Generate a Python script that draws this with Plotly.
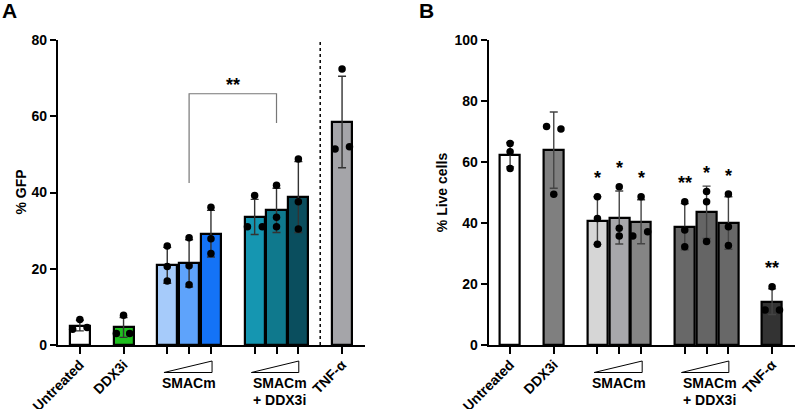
import plotly.graph_objects as go

# ---------------- data ----------------
positions = [0, 2, 4, 5, 6, 8, 9, 10, 12]
tick_text = ["Untreated", "DDX3i", "", "", "", "", "", "", "TNF-α"]

# Panel A: % GFP
gfp_mean = [5.1, 4.6, 20.9, 21.4, 29.2, 33.6, 35.3, 38.8, 58.5]
gfp_sd = [1.4, 2.6, 4.7, 6.2, 6.1, 4.6, 5.8, 9.3, 12.0]
gfp_rep1 = [6.7, 7.8, 26.0, 28.1, 36.1, 39.2, 41.9, 48.8, 72.4]
gfp_rep2 = [4.1, 3.0, 20.6, 20.8, 27.9, 31.0, 33.5, 37.6, 51.4]
gfp_rep3 = [4.6, 3.0, 16.8, 15.8, 24.0, 31.0, 31.0, 30.4, 52.0]
gfp_jitter = [[0, -0.33, 0.33], [0, -0.33, 0.28], [0, 0, 0], [0, 0, 0], [0, 0, 0],
              [0, -0.33, 0.35], [0, 0, 0], [0, 0, 0], [0, -0.32, 0.34]]
gfp_colors = ["#ffffff", "#1fbf1f", "#a6cbfa", "#5ea3fb", "#1473f7",
              "#1596b1", "#0f798d", "#0a4e5e", "#a5a5a9"]

# Panel B: % Live cells
live_mean = [62.4, 63.9, 40.8, 41.8, 40.4, 38.8, 43.5, 40.0, 14.2]
live_sd = [4.0, 12.5, 7.8, 8.7, 7.2, 7.6, 8.6, 8.6, 4.2]
live_rep1 = [66.1, 71.6, 48.6, 51.9, 48.6, 47.0, 50.3, 49.5, 19.1]
live_rep2 = [63.4, 70.8, 41.5, 38.3, 35.7, 37.7, 47.0, 38.8, 11.5]
live_rep3 = [57.9, 49.4, 33.0, 35.7, 37.1, 32.2, 33.9, 32.6, 11.5]
live_jitter = [[0, 0, 0], [-0.33, 0.33, 0], [0, 0, 0], [0, 0, 0], [0, -0.38, 0.3],
               [0, 0, 0], [0, 0, 0], [0, 0, 0], [0, -0.32, 0.34]]
live_colors = ["#ffffff", "#7f7f7f", "#d6d6d6", "#a7a7ab", "#858585",
               "#686868", "#656565", "#686868", "#333333"]
live_sig = ["", "", "*", "*", "*", "**", "*", "*", "**"]

FONT = "Arial, Liberation Sans, sans-serif"

fig = go.Figure()


def add_panel(xa, ya, means, sds, reps, jitter, colors, err_color):
    fig.add_trace(go.Bar(
        x=positions, y=means, width=0.92, xaxis=xa, yaxis=ya,
        marker=dict(color=colors, line=dict(color="black", width=2.2)),
        error_y=dict(type="data", array=sds, visible=True, color=err_color,
                     thickness=1.4, width=4),
        showlegend=False, hoverinfo="skip"))
    xs, ys = [], []
    for i, p in enumerate(positions):
        for k in range(3):
            xs.append(p + jitter[i][k])
            ys.append(reps[k][i])
    fig.add_trace(go.Scatter(
        x=xs, y=ys, mode="markers", xaxis=xa, yaxis=ya,
        marker=dict(color="black", size=7.5), showlegend=False, hoverinfo="skip"))


add_panel("x", "y", gfp_mean, gfp_sd, [gfp_rep1, gfp_rep2, gfp_rep3],
          gfp_jitter, gfp_colors, "#333333")
add_panel("x2", "y2", live_mean, live_sd, [live_rep1, live_rep2, live_rep3],
          live_jitter, live_colors, "#444444")

ydom = [1 - 345 / 409, 1 - 40 / 409]
axis_common = dict(showgrid=False, zeroline=False, showline=True, linecolor="black",
                   linewidth=2.2, ticks="outside", tickwidth=2, tickcolor="black",
                   automargin=False,
                   tickfont=dict(family=FONT, size=14, color="black", weight="bold"))

fig.update_layout(
    width=795, height=409,
    margin=dict(l=0, r=0, t=0, b=0, autoexpand=False),
    paper_bgcolor="white", plot_bgcolor="white",
    font=dict(family=FONT, color="black"),
    bargap=0,
    xaxis=dict(domain=[58 / 795, 365 / 795], range=[-1.0, 13.05], tickvals=positions,
               ticktext=tick_text, tickangle=-45, ticklen=7, ticklabelstandoff=-3,
               **axis_common),
    yaxis=dict(domain=ydom, range=[0, 80], tickvals=[0, 20, 40, 60, 80], ticklen=6,
               **axis_common),
    xaxis2=dict(domain=[488.7 / 795, 1.0], range=[-0.98, 13.05], tickvals=positions,
                ticktext=tick_text, tickangle=-45, ticklen=7, ticklabelstandoff=-3,
                anchor="y2", **axis_common),
    yaxis2=dict(domain=ydom, range=[0, 100], tickvals=[0, 20, 40, 60, 80, 100], ticklen=6,
                anchor="x2", **axis_common),
)

shapes = []
annotations = []

title_font = dict(family=FONT, size=14, color="black", weight="bold")
ymid = (ydom[0] + ydom[1]) / 2
annotations.append(dict(x=20 / 795, y=ymid, xref="paper", yref="paper", text="% GFP",
                        textangle=-90, showarrow=False, xanchor="center", yanchor="middle",
                        font=title_font))
annotations.append(dict(x=441.7 / 795, y=ymid, xref="paper", yref="paper", text="% Live cells",
                        textangle=-90, showarrow=False, xanchor="center", yanchor="middle",
                        font=title_font))

# dotted separator in panel A
shapes.append(dict(type="line", xref="x", yref="y", x0=11, x1=11, y0=0, y1=80,
                   line=dict(color="black", width=1.5, dash="dot")))
# significance bracket in panel A
shapes.append(dict(type="path", xref="x", yref="y",
                   path="M 5,42.5 L 5,65.9 L 9,65.9 L 9,58.2",
                   line=dict(color="#777777", width=1.2)))
annotations.append(dict(x=7, y=68.3, xref="x", yref="y", text="**", showarrow=False,
                        font=dict(family=FONT, size=18, color="black", weight="bold"),
                        xanchor="center", yanchor="middle"))

# significance stars in panel B
for i, s in enumerate(live_sig):
    if s:
        top = max(live_rep1[i], live_rep2[i], live_rep3[i])
        annotations.append(dict(x=positions[i], y=top + 6.0, xref="x2", yref="y2", text=s,
                                showarrow=False, xanchor="center", yanchor="middle",
                                font=dict(family=FONT, size=18, color="black", weight="bold")))

# wedges and group labels
y_lo = 1 - 372.5 / 409
y_hi = 1 - 361 / 409
lab_font = dict(family=FONT, size=14, color="black", weight="bold")
for xr in ["x", "x2"]:
    for g0, g1 in [(3.85, 6.05), (7.85, 10.02)]:
        shapes.append(dict(type="path", xref=xr, yref="paper",
                           path=f"M {g0},{y_lo} L {g1},{y_lo} L {g1},{y_hi} Z",
                           line=dict(color="black", width=1), fillcolor="white"))
    annotations.append(dict(x=5, y=1 - 383 / 409, xref=xr, yref="paper", text="SMACm",
                            showarrow=False, xanchor="center", yanchor="middle", font=lab_font))
    annotations.append(dict(x=7.85, y=1 - 383 / 409, xref=xr, yref="paper", text="SMACm",
                            showarrow=False, xanchor="left", yanchor="middle", font=lab_font))
    annotations.append(dict(x=7.85, y=1 - 399.5 / 409, xref=xr, yref="paper", text="+ DDX3i",
                            showarrow=False, xanchor="left", yanchor="middle", font=lab_font))

# panel letters
annotations.append(dict(x=0, y=1, xref="paper", yref="paper", text="A", yshift=3,
                        showarrow=False, xanchor="left", yanchor="top",
                        font=dict(family=FONT, size=21, color="black", weight="bold")))
annotations.append(dict(x=417 / 795, y=1, xref="paper", yref="paper", text="B", yshift=3,
                        showarrow=False, xanchor="left", yanchor="top",
                        font=dict(family=FONT, size=21, color="black", weight="bold")))

fig.update_layout(shapes=shapes, annotations=annotations)
fig.write_html("out.html", config={"displayModeBar": False},
               post_script="document.body.style.margin='0';")
